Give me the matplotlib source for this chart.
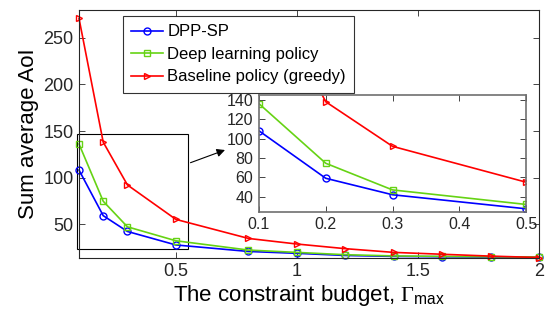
import matplotlib.pyplot as plt
import numpy as np

plt.rcParams['font.family'] = ['Liberation Sans', 'DejaVu Sans']
plt.rcParams['mathtext.fontset'] = 'custom'
plt.rcParams['mathtext.rm'] = 'Liberation Serif'
plt.rcParams['mathtext.sf'] = 'Liberation Sans'
plt.rcParams['mathtext.it'] = 'Liberation Serif:italic'

# constraint budget values
budget = [0.1, 0.2, 0.3, 0.5, 0.8, 1.0, 1.2, 1.4, 1.6, 1.8, 2.0]
# sum average AoI for each policy
dpp_sp = [108, 59, 42, 27.5, 20.5, 18.5, 16.2, 15.2, 14.8, 14.5, 14.3]
deep_learning = [136, 74.5, 47, 32, 22, 19.5, 17, 15.7, 15.2, 14.8, 14.5]
baseline = [271, 138, 92, 55, 34.5, 28.5, 23.5, 19.5, 17.5, 15.5, 14]

labels = ['DPP-SP', 'Deep learning policy', 'Baseline policy (greedy)']
colors = ['#0000ff', '#66d314', '#ff0000']
markers = ['o', 's', '>']
series = [dpp_sp, deep_learning, baseline]


def style_axes(ax, size):
    for s in ax.spines.values():
        s.set_color('#262626')
        s.set_linewidth(0.8)
    ax.tick_params(direction='in', top=True, right=True, length=4,
                   width=0.6, labelsize=size, colors='#262626', pad=4)


fig = plt.figure(figsize=(5.46, 3.22), dpi=100)
ax = fig.add_axes([0.1447, 0.1997, 0.8425, 0.769])

for y, c, m, lab in zip(series, colors, markers, labels):
    ax.plot(budget, y, color=c, marker=m, markersize=5, markerfacecolor='none',
            markeredgewidth=1.0, linewidth=1.2, label=lab, clip_on=False)

ax.set_xlim(0.1, 2)
ax.set_ylim(13.8, 280)
ax.set_xticks([0.5, 1, 1.5, 2])
ax.set_xticklabels(['0.5', '1', '1.5', '2'])
ax.set_yticks([50, 100, 150, 200, 250])
style_axes(ax, 13)
ax.set_xlabel(r'The constraint budget, $\Gamma_{\mathsf{max}}$', fontsize=16, labelpad=2)
ax.set_ylabel('Sum average AoI', fontsize=16, labelpad=3)

leg = ax.legend(loc='upper left', bbox_to_anchor=(0.0957, 0.976), fontsize=12,
                frameon=True, fancybox=False, edgecolor='black', borderaxespad=0,
                handlelength=1.9, handletextpad=0.25, labelspacing=0.45,
                borderpad=0.5)
leg.get_frame().set_linewidth(0.8)

# zoom box on the main axes
ax.add_patch(plt.Rectangle((0.09, 23.2), 0.46, 123.3, fill=False,
                           edgecolor='black', linewidth=0.8, clip_on=False))
ax.annotate('', xy=(225 / 546, 1 - 150 / 322), xytext=(190.5 / 546, 1 - 162.7 / 322),
            xycoords='figure fraction', textcoords='figure fraction',
            arrowprops=dict(arrowstyle='-|>', color='black', lw=0.8,
                            mutation_scale=12, shrinkA=0, shrinkB=0))

# inset
axin = fig.add_axes([259 / 546, 1 - 211.7 / 322, 267 / 546, 116.7 / 322])
for y, c, m in zip(series, colors, markers):
    axin.plot(budget, y, color=c, marker=m, markersize=5, markerfacecolor='none',
              markeredgewidth=1.0, linewidth=1.2)
axin.set_xlim(0.1, 0.5)
axin.set_ylim(24.5, 145)
axin.set_xticks([0.1, 0.2, 0.3, 0.4, 0.5])
axin.set_yticks([40, 60, 80, 100, 120, 140])
style_axes(axin, 11.5)
for s in axin.spines.values():
    s.set_color('#707070')
    s.set_linewidth(1.2)

fig.savefig('out.png', dpi=100)
